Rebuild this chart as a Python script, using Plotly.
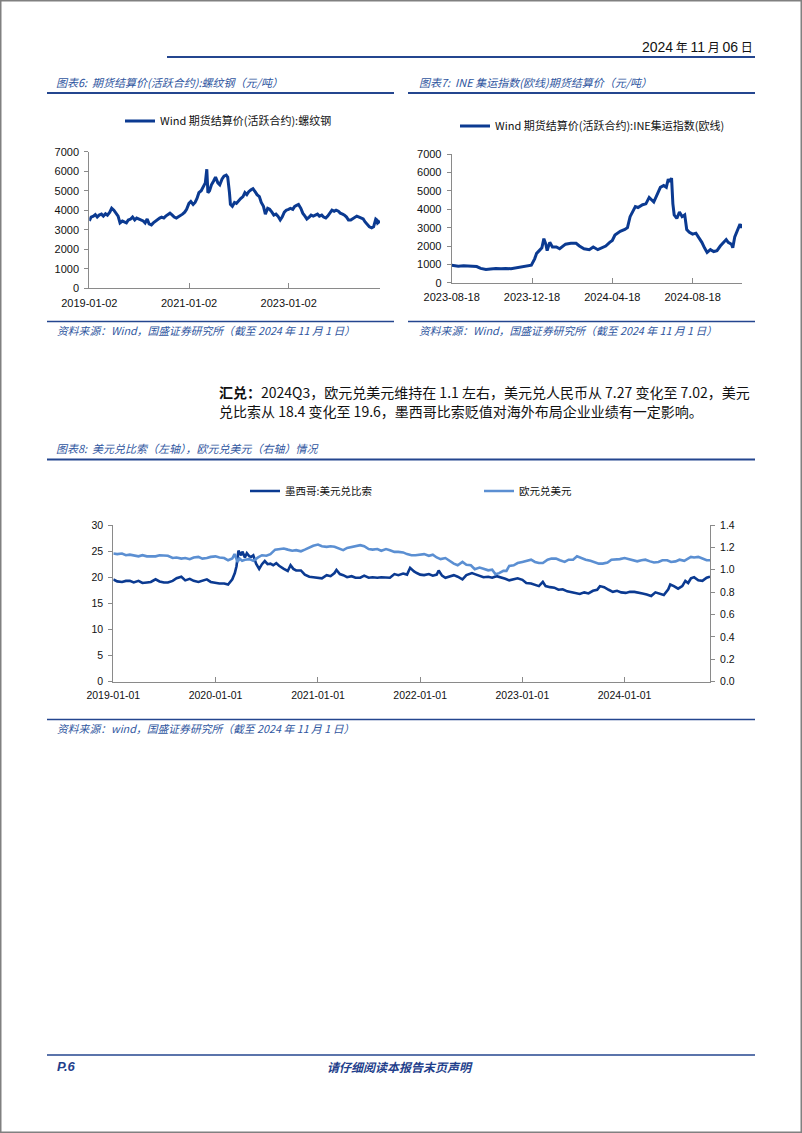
import plotly.graph_objects as go

W, H = 802, 1133


def px(x):
    return x / W


def py(y):
    return 1 - y / H


# ---------------- data ----------------
# Chart 6: rebar futures settlement price (CNY/t)
rebar_dates = [
    "2019-01-02", "2019-01-15", "2019-02-01", "2019-02-15", "2019-03-01", "2019-03-15",
    "2019-04-01", "2019-04-15", "2019-05-01", "2019-05-15", "2019-06-01", "2019-06-15",
    "2019-07-01", "2019-07-15", "2019-08-01", "2019-08-15", "2019-09-01", "2019-09-15",
    "2019-10-01", "2019-10-15", "2019-11-01", "2019-11-15", "2019-12-01", "2019-12-15",
    "2020-01-01", "2020-01-15", "2020-02-01", "2020-02-15", "2020-03-01", "2020-03-15",
    "2020-04-01", "2020-04-15", "2020-05-01", "2020-05-15", "2020-06-01", "2020-06-15",
    "2020-07-01", "2020-07-15", "2020-08-01", "2020-08-15", "2020-09-01", "2020-09-15",
    "2020-10-01", "2020-10-15", "2020-11-01", "2020-11-15", "2020-12-01", "2020-12-15",
    "2021-01-01", "2021-01-15", "2021-02-01", "2021-02-15", "2021-03-01", "2021-03-15",
    "2021-04-01", "2021-04-15", "2021-05-01", "2021-05-12", "2021-05-20", "2021-06-01",
    "2021-06-15", "2021-07-01", "2021-07-15", "2021-08-01", "2021-08-15", "2021-09-01",
    "2021-09-15", "2021-10-01", "2021-10-12", "2021-10-25", "2021-11-01", "2021-11-15",
    "2021-12-01", "2021-12-15",
    "2022-01-01", "2022-01-15", "2022-02-01", "2022-02-15", "2022-03-01", "2022-03-15",
    "2022-04-01", "2022-04-15", "2022-05-01", "2022-05-15", "2022-06-01", "2022-06-15",
    "2022-07-01", "2022-07-15", "2022-08-01", "2022-08-15", "2022-09-01", "2022-09-15",
    "2022-10-01", "2022-10-15", "2022-11-01", "2022-11-15", "2022-12-01", "2022-12-15",
    "2023-01-01", "2023-01-15", "2023-02-01", "2023-02-15", "2023-03-01", "2023-03-15",
    "2023-04-01", "2023-04-15", "2023-05-01", "2023-05-15", "2023-06-01", "2023-06-15",
    "2023-07-01", "2023-07-15", "2023-08-01", "2023-08-15", "2023-09-01", "2023-09-15",
    "2023-10-01", "2023-10-15", "2023-11-01", "2023-11-15", "2023-12-01", "2023-12-15",
    "2024-01-01", "2024-01-15", "2024-02-01", "2024-02-15", "2024-03-01", "2024-03-15",
    "2024-04-01", "2024-04-15", "2024-05-01", "2024-05-15", "2024-06-01", "2024-06-15",
    "2024-07-01", "2024-07-15", "2024-08-01", "2024-08-15", "2024-09-01", "2024-09-15",
    "2024-10-01", "2024-10-10", "2024-10-15", "2024-11-01",
]
rebar_values = [
    3450, 3650, 3700, 3780, 3650, 3750,
    3800, 3700, 3820, 3750, 3900, 4100,
    4000, 3850, 3700, 3350, 3450, 3400,
    3350, 3500, 3550, 3650, 3500, 3600,
    3550, 3500, 3450, 3350, 3550, 3300,
    3250, 3350, 3450, 3500, 3600, 3650,
    3600, 3700, 3800, 3850, 3750, 3650,
    3600, 3650, 3750, 3800, 3900, 4050,
    4350, 4450, 4300, 4400, 4600, 4900,
    5000, 5200, 5400, 6100, 4900, 5000,
    5300, 5500, 5700, 5400, 5300, 5600,
    5750, 5800, 5700, 4900, 4300, 4200,
    4400, 4350,
    4500, 4600, 4700, 4900, 4800, 4950,
    5050, 5100, 4950, 4800, 4700, 4400,
    4200, 3800, 4100, 4050, 3900, 3750,
    3800, 3700, 3500, 3650, 3900, 4000,
    4050, 4100, 4050, 4200, 4250, 4300,
    4100, 3850, 3700, 3550, 3650, 3750,
    3700, 3750, 3800, 3700, 3750, 3650,
    3600, 3700, 3900, 4000, 3950, 4000,
    3950, 3850, 3800, 3750, 3650, 3500,
    3500, 3550, 3650, 3700, 3650, 3600,
    3550, 3400, 3250, 3150, 3100, 3150,
    3550, 3500, 3350, 3450,
]
rebar_tick_dates = ["2019-01-02", "2021-01-02", "2023-01-02"]
rebar_tick_labels = ["2019-01-02", "2021-01-02", "2023-01-02"]

# Chart 7: INE container freight index (Europe) futures settlement price
ine_dates = [
    "2023-08-18", "2023-08-28", "2023-09-05", "2023-09-13", "2023-09-20", "2023-09-25",
    "2023-10-01", "2023-10-09", "2023-10-16", "2023-10-24", "2023-11-01", "2023-11-08",
    "2023-11-16", "2023-11-24", "2023-12-01", "2023-12-09", "2023-12-17", "2023-12-22",
    "2023-12-25", "2023-12-29", "2024-01-02", "2024-01-05", "2024-01-08", "2024-01-10",
    "2024-01-14", "2024-01-18", "2024-01-24", "2024-01-29", "2024-02-03", "2024-02-07",
    "2024-02-15", "2024-02-23", "2024-02-28", "2024-03-06", "2024-03-14", "2024-03-20",
    "2024-03-27", "2024-04-03", "2024-04-08", "2024-04-14", "2024-04-18", "2024-04-22",
    "2024-04-30", "2024-05-07", "2024-05-11", "2024-05-15", "2024-05-20", "2024-05-23",
    "2024-05-27", "2024-06-03", "2024-06-08", "2024-06-13", "2024-06-20", "2024-06-25",
    "2024-06-30", "2024-07-05", "2024-07-09", "2024-07-12", "2024-07-14", "2024-07-17",
    "2024-07-19", "2024-07-21", "2024-07-25", "2024-07-29", "2024-08-02", "2024-08-06",
    "2024-08-09", "2024-08-13", "2024-08-18", "2024-08-23", "2024-08-27", "2024-09-01",
    "2024-09-05", "2024-09-09", "2024-09-14", "2024-09-19", "2024-09-24", "2024-09-29",
    "2024-10-08", "2024-10-11", "2024-10-16", "2024-10-18", "2024-10-21", "2024-10-26",
    "2024-10-29", "2024-10-30", "2024-11-01",
]
ine_values = [
    950, 900, 920, 900, 920, 880,
    780, 720, 750, 780, 760, 780,
    760, 800, 850, 880, 950, 1300,
    1600, 1750, 1900, 2400, 2100, 1750,
    2200, 1950, 1950, 1850, 2000, 2100,
    2150, 2150, 2000, 1850, 1800, 1950,
    1800, 1900, 2000, 2200, 2300, 2600,
    2800, 2900, 3000, 3600, 3900, 4150,
    4100, 4250, 4300, 4650, 4400, 4800,
    5200, 5300, 5200, 5650, 5500, 5700,
    4300, 3700, 3500, 3850, 3600, 3700,
    2900, 2750, 2650, 2700, 2500, 2200,
    1900, 1650, 1800, 1700, 1750, 2000,
    2350, 2200, 2100, 1900, 2500, 2900,
    3200, 3000, 3200,
]
ine_tick_dates = ["2023-08-18", "2023-12-18", "2024-04-18", "2024-08-18"]
ine_tick_labels = ["2023-08-18", "2023-12-18", "2024-04-18", "2024-08-18"]

# Chart 8: USD/MXN (left axis) and EUR/USD (right axis)
mxn_dates = [
    "2019-01-01", "2019-01-15", "2019-02-01", "2019-02-15", "2019-03-01", "2019-03-15",
    "2019-04-01", "2019-04-15", "2019-05-01", "2019-05-15", "2019-06-01", "2019-06-15",
    "2019-07-01", "2019-07-15", "2019-08-01", "2019-08-15", "2019-09-01", "2019-09-15",
    "2019-10-01", "2019-10-15", "2019-11-01", "2019-11-15", "2019-12-01", "2019-12-15",
    "2020-01-01", "2020-01-15", "2020-02-01", "2020-02-15", "2020-03-01", "2020-03-10",
    "2020-03-16", "2020-03-20", "2020-03-23", "2020-04-01", "2020-04-06", "2020-04-15",
    "2020-04-22", "2020-05-01", "2020-05-08", "2020-05-15", "2020-05-25", "2020-06-05",
    "2020-06-15", "2020-06-25", "2020-07-05", "2020-07-15", "2020-07-25", "2020-08-05",
    "2020-08-15", "2020-09-01", "2020-09-15", "2020-09-25", "2020-10-05", "2020-10-15",
    "2020-11-01", "2020-11-15", "2020-12-01", "2020-12-15",
    "2021-01-01", "2021-01-15", "2021-02-01", "2021-02-15", "2021-03-01", "2021-03-08",
    "2021-03-20", "2021-04-01", "2021-04-15", "2021-05-01", "2021-05-15", "2021-06-01",
    "2021-06-15", "2021-07-01", "2021-07-15", "2021-08-01", "2021-08-15", "2021-09-01",
    "2021-09-15", "2021-10-01", "2021-10-15", "2021-11-01", "2021-11-15", "2021-11-26",
    "2021-12-10", "2021-12-20",
    "2022-01-01", "2022-01-15", "2022-02-01", "2022-02-15", "2022-03-01", "2022-03-08",
    "2022-03-20", "2022-04-01", "2022-04-15", "2022-05-01", "2022-05-15", "2022-06-01",
    "2022-06-15", "2022-06-25", "2022-07-05", "2022-07-15", "2022-08-01", "2022-08-15",
    "2022-09-01", "2022-09-15", "2022-10-01", "2022-10-15", "2022-11-01", "2022-11-15",
    "2022-12-01", "2022-12-15",
    "2023-01-01", "2023-01-15", "2023-02-01", "2023-02-15", "2023-03-01", "2023-03-15",
    "2023-03-25", "2023-04-10", "2023-04-25", "2023-05-10", "2023-05-25", "2023-06-10",
    "2023-06-25", "2023-07-10", "2023-07-25", "2023-08-10", "2023-08-25", "2023-09-10",
    "2023-09-25", "2023-10-05", "2023-10-20", "2023-11-05", "2023-11-20", "2023-12-05",
    "2023-12-20",
    "2024-01-05", "2024-01-20", "2024-02-05", "2024-02-20", "2024-03-05", "2024-03-20",
    "2024-04-05", "2024-04-20", "2024-05-05", "2024-05-20", "2024-06-05", "2024-06-12",
    "2024-06-25", "2024-07-10", "2024-07-25", "2024-08-05", "2024-08-15", "2024-08-25",
    "2024-09-05", "2024-09-20", "2024-10-05", "2024-10-20", "2024-11-01",
]
mxn_values = [
    19.6, 19.2, 19.1, 19.3, 19.3, 19.0,
    19.3, 18.9, 19.0, 19.1, 19.6, 19.2,
    19.0, 19.0, 19.3, 19.8, 20.1, 19.4,
    19.7, 19.3, 19.1, 19.4, 19.6, 19.1,
    18.9, 18.8, 18.8, 18.6, 19.6, 20.8,
    22.1, 24.5, 25.1, 24.2, 24.9, 23.8,
    24.6, 24.0, 23.9, 24.2, 22.6, 21.6,
    22.5, 23.1, 22.5, 22.6, 22.3, 22.7,
    22.2, 21.6, 21.2, 22.3, 21.6, 21.3,
    21.3, 20.5, 20.1, 20.0,
    19.9, 19.8, 20.4, 20.2, 20.8, 21.4,
    20.6, 20.4, 20.0, 20.2, 19.9, 19.9,
    20.3, 19.9, 20.0, 19.9, 20.0, 20.0,
    19.9, 20.6, 20.4, 20.7, 20.5, 21.8,
    21.1, 20.8,
    20.5, 20.4, 20.6, 20.3, 20.5, 21.3,
    20.3, 19.9, 20.2, 20.4, 20.1, 19.6,
    20.4, 20.6, 20.8, 20.6, 20.3, 20.0,
    20.1, 19.9, 20.2, 20.0, 19.7, 19.4,
    19.6, 19.8,
    19.5, 18.9, 18.8, 18.6, 18.3, 19.1,
    18.3, 18.1, 18.0, 17.6, 17.7, 17.3,
    17.1, 16.9, 16.8, 17.1, 16.9, 17.4,
    17.6, 18.3, 18.1, 17.6, 17.2, 17.4,
    17.1,
    17.0, 17.2, 17.2, 17.1, 16.9, 16.7,
    16.4, 17.1, 16.9, 16.6, 17.7, 18.6,
    18.3, 17.8, 18.3, 19.3, 18.9, 19.8,
    20.0, 19.4, 19.3, 19.9, 20.1,
]
eur_dates = [
    "2019-01-01", "2019-01-15", "2019-02-01", "2019-02-15", "2019-03-01", "2019-03-15",
    "2019-04-01", "2019-04-15", "2019-05-01", "2019-05-15", "2019-06-01", "2019-06-15",
    "2019-07-01", "2019-07-15", "2019-08-01", "2019-08-15", "2019-09-01", "2019-09-15",
    "2019-10-01", "2019-10-15", "2019-11-01", "2019-11-15", "2019-12-01", "2019-12-15",
    "2020-01-01", "2020-01-15", "2020-02-01", "2020-02-15", "2020-03-01", "2020-03-09",
    "2020-03-20", "2020-03-27", "2020-04-05", "2020-04-15", "2020-05-01", "2020-05-15",
    "2020-06-01", "2020-06-15", "2020-07-01", "2020-07-15", "2020-08-01", "2020-08-15",
    "2020-09-01", "2020-09-15", "2020-10-01", "2020-10-15", "2020-11-01", "2020-11-15",
    "2020-12-01", "2020-12-15",
    "2021-01-01", "2021-01-15", "2021-02-01", "2021-02-15", "2021-03-01", "2021-03-15",
    "2021-04-01", "2021-04-15", "2021-05-01", "2021-05-15", "2021-06-01", "2021-06-15",
    "2021-07-01", "2021-07-15", "2021-08-01", "2021-08-15", "2021-09-01", "2021-09-15",
    "2021-10-01", "2021-10-15", "2021-11-01", "2021-11-15", "2021-12-01", "2021-12-15",
    "2022-01-01", "2022-01-15", "2022-02-01", "2022-02-15", "2022-03-01", "2022-03-15",
    "2022-04-01", "2022-04-15", "2022-05-01", "2022-05-15", "2022-06-01", "2022-06-15",
    "2022-07-01", "2022-07-15", "2022-08-01", "2022-08-15", "2022-09-01", "2022-09-15",
    "2022-09-27", "2022-10-10", "2022-10-25", "2022-11-05", "2022-11-15", "2022-12-01",
    "2022-12-15",
    "2023-01-01", "2023-01-15", "2023-02-01", "2023-02-15", "2023-03-01", "2023-03-15",
    "2023-04-01", "2023-04-15", "2023-05-01", "2023-05-15", "2023-06-01", "2023-06-15",
    "2023-07-01", "2023-07-15", "2023-08-01", "2023-08-15", "2023-09-01", "2023-09-15",
    "2023-10-01", "2023-10-15", "2023-11-01", "2023-11-15", "2023-12-01", "2023-12-15",
    "2024-01-01", "2024-01-15", "2024-02-01", "2024-02-15", "2024-03-01", "2024-03-15",
    "2024-04-01", "2024-04-15", "2024-05-01", "2024-05-15", "2024-06-01", "2024-06-15",
    "2024-07-01", "2024-07-15", "2024-08-01", "2024-08-15", "2024-08-25", "2024-09-05",
    "2024-09-20", "2024-10-05", "2024-10-20", "2024-11-01",
]
eur_values = [
    1.145, 1.140, 1.145, 1.130, 1.135, 1.130,
    1.120, 1.130, 1.120, 1.120, 1.120, 1.130,
    1.130, 1.125, 1.105, 1.110, 1.100, 1.105,
    1.095, 1.110, 1.115, 1.100, 1.105, 1.115,
    1.120, 1.110, 1.105, 1.085, 1.100, 1.140,
    1.070, 1.100, 1.080, 1.090, 1.095, 1.080,
    1.110, 1.130, 1.125, 1.140, 1.180, 1.185,
    1.190, 1.180, 1.170, 1.175, 1.165, 1.180,
    1.200, 1.215,
    1.225, 1.210, 1.205, 1.210, 1.205, 1.190,
    1.175, 1.195, 1.205, 1.215, 1.220, 1.210,
    1.185, 1.180, 1.185, 1.170, 1.185, 1.175,
    1.160, 1.160, 1.155, 1.140, 1.130, 1.130,
    1.135, 1.140, 1.125, 1.135, 1.110, 1.095,
    1.105, 1.080, 1.055, 1.040, 1.070, 1.045,
    1.040, 1.005, 1.020, 1.010, 0.995, 1.000,
    0.960, 0.970, 0.990, 0.990, 1.035, 1.040,
    1.060,
    1.070, 1.080, 1.090, 1.070, 1.060, 1.060,
    1.090, 1.100, 1.100, 1.085, 1.070, 1.090,
    1.090, 1.120, 1.100, 1.090, 1.080, 1.065,
    1.055, 1.055, 1.065, 1.090, 1.090, 1.095,
    1.105, 1.095, 1.085, 1.075, 1.085, 1.090,
    1.075, 1.065, 1.070, 1.085, 1.085, 1.070,
    1.075, 1.090, 1.080, 1.100, 1.115, 1.110,
    1.115, 1.100, 1.085, 1.085,
]
fx_tick_dates = ["2019-01-01", "2020-01-01", "2021-01-01", "2022-01-01", "2023-01-01", "2024-01-01"]
fx_tick_labels = ["2019-01-01", "2020-01-01", "2021-01-01", "2022-01-01", "2023-01-01", "2024-01-01"]

# ---------------- styles ----------------
DARK = "#0b3a91"
LIGHT = "#5b8fd2"
NAVY = "#24468f"
TITLE_BLUE = "#2f56a0"
AXIS_GRAY = "#8a8a8a"
CJK = "Noto Sans CJK SC"
LAT = "Liberation Sans, Arial, sans-serif"

fig = go.Figure()
fig.add_trace(go.Scatter(
    x=rebar_dates, y=rebar_values, mode="lines",
    name="Wind 期货结算价(活跃合约):螺纹钢", showlegend=True,
    line=dict(color=DARK, width=3), xaxis="x", yaxis="y", legend="legend"))
fig.add_trace(go.Scatter(
    x=ine_dates, y=ine_values, mode="lines",
    name="Wind 期货结算价(活跃合约):INE集运指数(欧线)", showlegend=True,
    line=dict(color=DARK, width=3), xaxis="x2", yaxis="y2", legend="legend2"))
fig.add_trace(go.Scatter(
    x=eur_dates, y=eur_values, mode="lines", name="欧元兑美元", showlegend=True,
    line=dict(color=LIGHT, width=2.6), xaxis="x3", yaxis="y4", legend="legend4"))
fig.add_trace(go.Scatter(
    x=mxn_dates, y=mxn_values, mode="lines", name="墨西哥:美元兑比索", showlegend=True,
    line=dict(color=DARK, width=2.6), xaxis="x3", yaxis="y3", legend="legend3"))


def xax(domain, anchor, rng, tv, tt, size):
    return dict(domain=domain, anchor=anchor, type="date", range=rng,
                tickmode="array", tickvals=tv, ticktext=tt, automargin=False,
                showgrid=False, zeroline=False, showline=True,
                linecolor=AXIS_GRAY, linewidth=1, ticks="inside", ticklen=5,
                tickcolor=AXIS_GRAY, tickfont=dict(family=LAT, size=size, color="#111"),
                ticklabelstandoff=4)


def yax(domain, anchor, rng, dtick, fmt, size, side="left", overlaying=None):
    d = dict(domain=domain, anchor=anchor, range=rng, dtick=dtick, tick0=0,
             tickformat=fmt, showgrid=False, zeroline=False, showline=True,
             automargin=False,
             linecolor=AXIS_GRAY, linewidth=1, ticks="outside", ticklen=4,
             tickcolor=AXIS_GRAY, tickfont=dict(family=LAT, size=size, color="#111"),
             side=side, ticklabelstandoff=3)
    if overlaying:
        d["overlaying"] = overlaying
    return d


legend_base = dict(orientation="h", xanchor="left", yanchor="middle", visible=True,
                   bgcolor="rgba(0,0,0,0)", borderwidth=0, itemwidth=30,
                   itemclick=False, itemdoubleclick=False)

fig.update_layout(
    width=W, height=H, margin=dict(l=0, r=0, t=0, b=0, autoexpand=False),
    template="none", showlegend=True,
    paper_bgcolor="white", plot_bgcolor="white",
    xaxis=xax([px(89.3), px(380)], "y", ["2019-01-02", "2024-11-01"],
              rebar_tick_dates, rebar_tick_labels, 11),
    yaxis=yax([py(288.3), py(151.7)], "x", [0, 7000], 1000, "d", 11),
    xaxis2=xax([px(451.7), px(742)], "y2", ["2023-08-18", "2024-11-01"],
               ine_tick_dates, ine_tick_labels, 11),
    yaxis2=yax([py(282.7), py(154.3)], "x2", [0, 7000], 1000, "d", 11),
    xaxis3=xax([px(113.3), px(710)], "y3", ["2019-01-01", "2024-11-01"],
               fx_tick_dates, fx_tick_labels, 10.5),
    yaxis3=yax([py(681.7), py(525)], "x3", [0, 30], 5, "d", 10.5),
    yaxis4=yax([py(681.7), py(525)], "x3", [0, 1.4], 0.2, ".1f", 10.5,
               side="right", overlaying="y3"),
    legend=dict(legend_base, x=px(120), y=py(121), font=dict(family=CJK, size=11, color="#111")),
    legend2=dict(legend_base, x=px(455), y=py(126), font=dict(family=CJK, size=11, color="#111")),
    legend3=dict(legend_base, x=px(245), y=py(491), font=dict(family=CJK, size=10.5, color="#111")),
    legend4=dict(legend_base, x=px(479), y=py(491), font=dict(family=CJK, size=10.5, color="#111")),
)

# ---------------- page decorations ----------------
shapes = []


def hline(x0, x1, y, color=NAVY, width=2):
    shapes.append(dict(type="line", xref="paper", yref="paper",
                       x0=px(x0), x1=px(x1), y0=py(y), y1=py(y),
                       line=dict(color=color, width=width)))


hline(167, 755, 57)          # header rule
hline(47, 394, 93)           # chart 6 title rule
hline(408, 755, 93)          # chart 7 title rule
hline(47, 394, 321.5, width=1.5)   # chart 6 source rule
hline(408, 755, 321.5, width=1.5)  # chart 7 source rule
hline(47, 755, 459.5)        # chart 8 title rule
hline(47, 755, 719.5, width=1.5)   # chart 8 source rule
hline(47, 755, 1055, width=1.5)    # footer rule
shapes.append(dict(type="rect", xref="paper", yref="paper", x0=0, x1=1, y0=0, y1=1,
                   line=dict(color="#808080", width=3), fillcolor="rgba(0,0,0,0)"))
fig.update_layout(shapes=shapes)

annotations = []


def text(x, y, s, size, color="#111", anchor="left", family=CJK):
    annotations.append(dict(xref="paper", yref="paper", x=px(x), y=py(y), text=s,
                            showarrow=False, xanchor=anchor, yanchor="middle",
                            font=dict(family=family, size=size, color=color)))


LATSPAN = '<span style="font-family:Liberation Sans, Arial;font-size:14px">'
text(755, 47, LATSPAN + "2024</span> 年 " + LATSPAN + "11</span> 月 " + LATSPAN + "06</span> 日",
     12, "#111", anchor="right")

text(54, 82, "<i>图表6:  期货结算价(活跃合约):螺纹钢（元/吨）</i>", 11, TITLE_BLUE)
text(417, 82, "<i>图表7:  INE 集运指数(欧线)期货结算价（元/吨）</i>", 11, TITLE_BLUE)
text(55, 330, "<i>资料来源：Wind，国盛证券研究所（截至 2024 年 11 月 1 日）</i>", 10.8, TITLE_BLUE)
text(417, 330, "<i>资料来源：Wind，国盛证券研究所（截至 2024 年 11 月 1 日）</i>", 10.8, TITLE_BLUE)

text(217, 392, "<b>汇兑：</b>2024Q3，欧元兑美元维持在 1.1 左右，美元兑人民币从 7.27 变化至 7.02，美元",
     14, "#111")
text(217, 411, "兑比索从 18.4 变化至 19.6，墨西哥比索贬值对海外布局企业业绩有一定影响。",
     14, "#111")

text(54, 448, "<i>图表8:  美元兑比索（左轴），欧元兑美元（右轴）情况</i>", 11, TITLE_BLUE)
text(55, 728, "<i>资料来源：wind，国盛证券研究所（截至 2024 年 11 月 1 日）</i>", 10.8, TITLE_BLUE)

text(55, 1066, "<b><i>P.6</i></b>", 13, "#1f3f8c", family="Liberation Sans, Arial")
text(400, 1066, "<b><i>请仔细阅读本报告末页声明</i></b>", 12, "#1f3f8c", anchor="center")

fig.update_layout(annotations=annotations)

fig.write_html("out.html", config={"displayModeBar": False},
               post_script="document.body.style.margin='0';document.body.style.overflow='hidden';")
